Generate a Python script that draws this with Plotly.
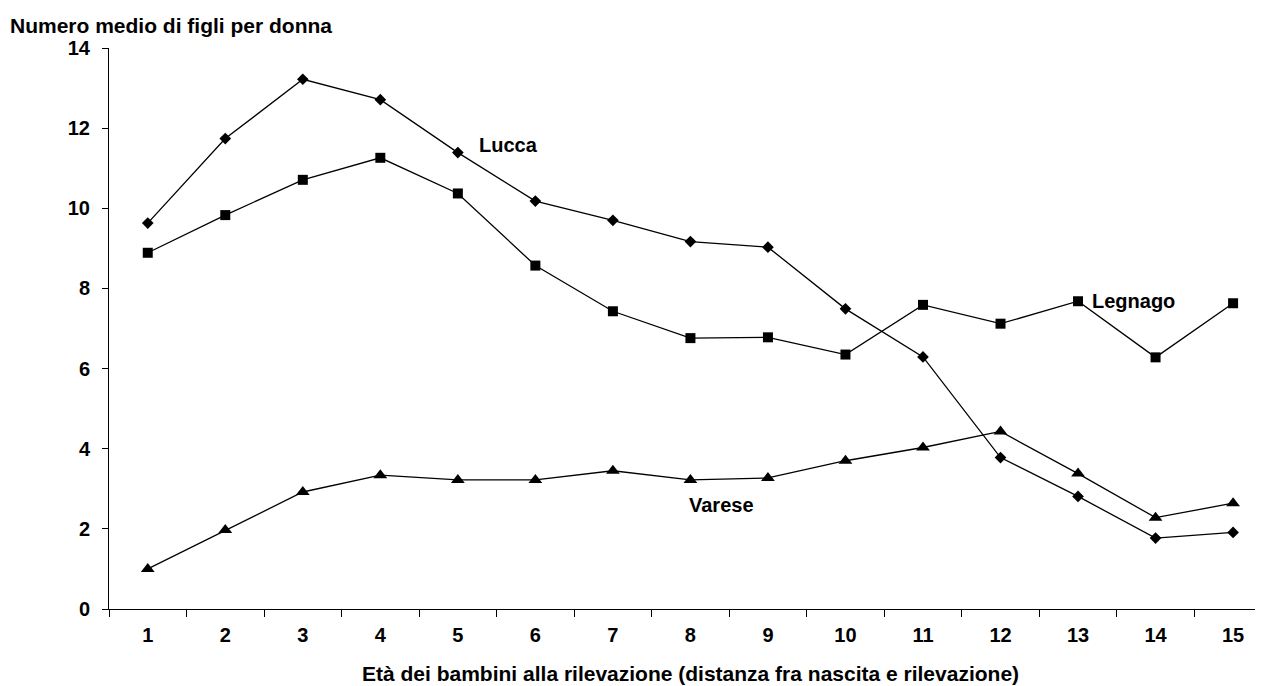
import plotly.graph_objects as go

# Età dei bambini alla rilevazione
ages = [str(i) for i in range(1, 16)]

lucca = [9.63, 11.74, 13.22, 12.71, 11.39, 10.18, 9.70, 9.17, 9.03, 7.49, 6.29, 3.78, 2.81, 1.77, 1.91]
legnago = [8.89, 9.83, 10.71, 11.26, 10.37, 8.57, 7.43, 6.76, 6.78, 6.35, 7.59, 7.12, 7.68, 6.28, 7.63]
varese = [1.00, 1.97, 2.92, 3.34, 3.22, 3.22, 3.45, 3.22, 3.27, 3.70, 4.03, 4.43, 3.38, 2.28, 2.64]

y_ticks = [0, 2, 4, 6, 8, 10, 12, 14]

FONT = "Arial, Liberation Sans, sans-serif"

fig = go.Figure()

fig.add_trace(go.Scatter(
    x=ages, y=lucca, name="Lucca", mode="lines+markers",
    line=dict(color="black", width=1.3),
    marker=dict(symbol="diamond", size=9, color="black"),
))
fig.add_trace(go.Scatter(
    x=ages, y=legnago, name="Legnago", mode="lines+markers",
    line=dict(color="black", width=1.3),
    marker=dict(symbol="square", size=10, color="black"),
))
fig.add_trace(go.Scatter(
    x=ages, y=varese, name="Varese", mode="lines+markers",
    line=dict(color="black", width=1.3),
    marker=dict(symbol="triangle-up", size=12, color="black"),
))

# series labels next to the lines (left edge, centre height)
labels = [("Lucca", 4.25, 11.59), ("Legnago", 12.16, 7.68), ("Varese", 6.96, 2.59)]
for text, lx, ly in labels:
    fig.add_annotation(x=lx, y=ly, text="<b>%s</b>" % text, showarrow=False,
                       xanchor="left", yanchor="middle",
                       font=dict(family=FONT, size=20, color="black"))

# y axis title, top left
fig.add_annotation(
    x=0, y=1, xref="paper", yref="paper", xshift=-101, yshift=23,
    xanchor="left", yanchor="middle", showarrow=False,
    text="<b>Numero medio di figli per donna</b>",
    font=dict(family=FONT, size=21, color="black"),
)

# x axis title
fig.add_annotation(
    x=0.5, y=0, xref="paper", yref="paper", xshift=4, yshift=-64,
    xanchor="center", yanchor="middle", showarrow=False,
    text="<b>Età dei bambini alla rilevazione (distanza fra nascita e rilevazione)</b>",
    font=dict(family=FONT, size=21, color="black"),
)

# page body has an 8px margin, so the figure is sized to end at the window edge
fig.update_layout(
    width=1255, height=678,
    margin=dict(l=101, r=0, t=40, b=77),
    plot_bgcolor="white", paper_bgcolor="white",
    showlegend=False,
    font=dict(family=FONT, size=20, color="black"),
)

fig.update_xaxes(
    type="category", range=[-0.5, 14.386],
    tickvals=ages, ticktext=["<b>%s</b>" % a for a in ages],
    tickson="boundaries", ticks="outside", ticklen=7, tickcolor="black",
    ticklabelstandoff=8,
    showline=True, linecolor="black", linewidth=1, showgrid=False, zeroline=False,
    tickfont=dict(family=FONT, size=20, color="black"),
)

fig.update_yaxes(
    range=[0, 14], tickvals=y_ticks, ticktext=["<b>%d</b>" % v for v in y_ticks],
    ticks="outside", ticklen=6, tickcolor="black", ticklabelstandoff=8,
    showline=True, linecolor="black", linewidth=1, showgrid=False, zeroline=False,
    tickfont=dict(family=FONT, size=20, color="black"),
)

fig.write_html("out.html")
